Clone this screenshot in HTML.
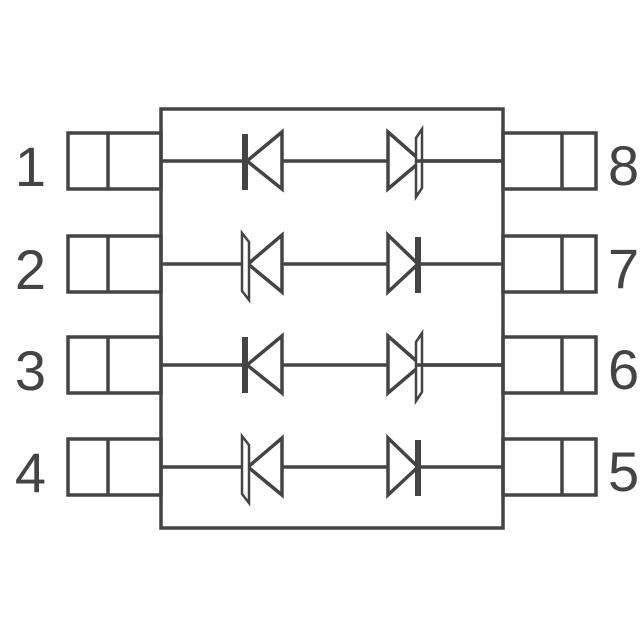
<!DOCTYPE html>
<html><head><style>body{margin:0;background:#fff}svg{display:block}</style></head><body>
<svg width="640" height="640" viewBox="0 0 640 640" xmlns="http://www.w3.org/2000/svg">
<g stroke="#444" stroke-width="3.5" fill="none">
<rect x="161" y="109" width="342" height="419"/>
</g>
<g id="rows" stroke="#444" stroke-width="3.5" fill="none">
<!-- row template drawn per row below -->
</g>
<g stroke="#444" stroke-width="3.5" fill="none">
<!-- Row 1 y=161 -->
<rect x="68" y="133" width="93" height="56"/><line x1="108" y1="133" x2="108" y2="189"/>
<rect x="503" y="133" width="93" height="56"/><line x1="562" y1="133" x2="562" y2="189"/>
<line x1="161" y1="161" x2="503" y2="161"/>
<polygon points="247,161 282,132 282,189" fill="#fff"/>
<polygon points="388,132 421,161 388,189" fill="#fff"/>
<polygon points="416,138 422,129 422,188 416,197" fill="#fff" stroke-width="2.5"/>
<line x1="416" y1="161" x2="503" y2="161"/>
<!-- Row 2 y=264 -->
<rect x="68" y="236" width="93" height="56"/><line x1="108" y1="236" x2="108" y2="292"/>
<rect x="503" y="236" width="93" height="56"/><line x1="562" y1="236" x2="562" y2="292"/>
<line x1="161" y1="264" x2="503" y2="264"/>
<polygon points="248,264 282,235 282,292" fill="#fff"/>
<polygon points="242,233 249,242 249,300 242,291" fill="#fff" stroke-width="2.5"/>
<polygon points="388,235 418,264 388,292" fill="#fff"/>
<!-- Row 3 y=365 -->
<rect x="68" y="337" width="93" height="56"/><line x1="108" y1="337" x2="108" y2="393"/>
<rect x="503" y="337" width="93" height="56"/><line x1="562" y1="337" x2="562" y2="393"/>
<line x1="161" y1="365" x2="503" y2="365"/>
<polygon points="247,365 282,336 282,393" fill="#fff"/>
<polygon points="388,336 421,365 388,393" fill="#fff"/>
<polygon points="416,342 422,333 422,392 416,401" fill="#fff" stroke-width="2.5"/>
<line x1="416" y1="365" x2="503" y2="365"/>
<!-- Row 4 y=467 -->
<rect x="68" y="439" width="93" height="56"/><line x1="108" y1="439" x2="108" y2="495"/>
<rect x="503" y="439" width="93" height="56"/><line x1="562" y1="439" x2="562" y2="495"/>
<line x1="161" y1="467" x2="503" y2="467"/>
<polygon points="248,467 282,438 282,495" fill="#fff"/>
<polygon points="242,436 249,445 249,503 242,494" fill="#fff" stroke-width="2.5"/>
<polygon points="388,438 418,467 388,495" fill="#fff"/>
</g>
<g fill="#444">
<rect x="242" y="134" width="6" height="56"/>
<rect x="415" y="237" width="6" height="56"/>
<rect x="242" y="337" width="6" height="56"/>
<rect x="415" y="440" width="6" height="56"/>
</g>
<g font-family="Liberation Sans, sans-serif" font-size="56" fill="#444">
<text x="46" y="186" text-anchor="end">1</text>
<text x="46" y="289" text-anchor="end">2</text>
<text x="46" y="390" text-anchor="end">3</text>
<text x="46" y="492" text-anchor="end">4</text>
<text x="608" y="185">8</text>
<text x="608" y="288">7</text>
<text x="608" y="389">6</text>
<text x="608" y="491">5</text>
</g>
</svg>
</body></html>
